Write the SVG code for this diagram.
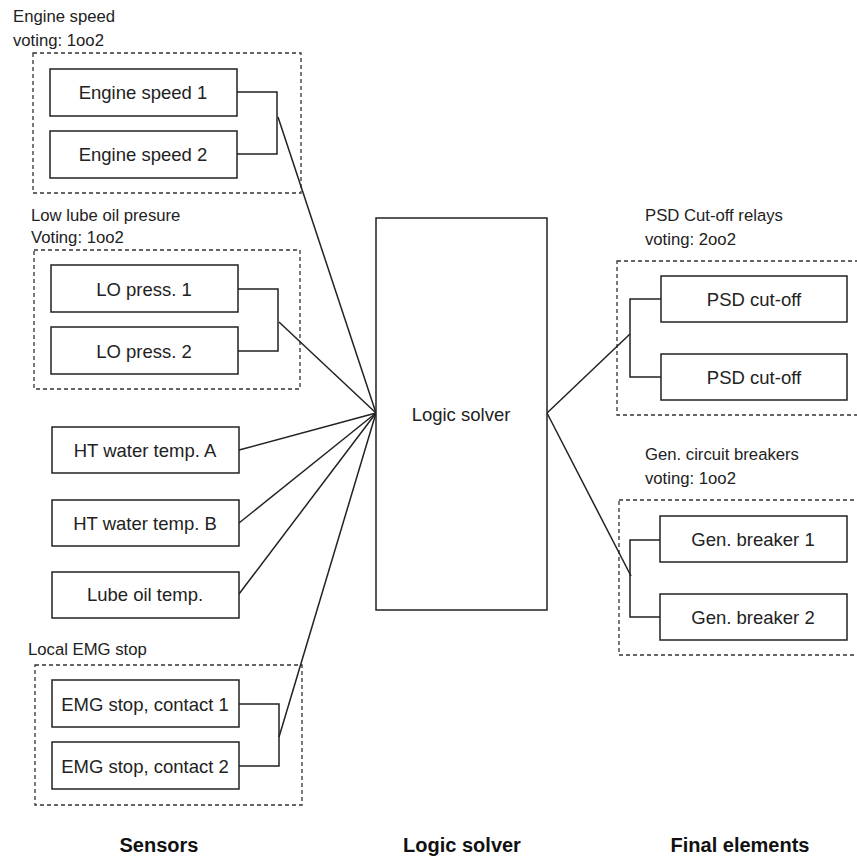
<svg xmlns="http://www.w3.org/2000/svg" width="857" height="857" viewBox="0 0 857 857">
<style>
.box{fill:#fff;stroke:#222;stroke-width:1.5}
.grp{fill:none;stroke:#333;stroke-width:1.3;stroke-dasharray:4 3}
.t{font-family:"Liberation Sans",Arial,sans-serif;font-size:18.5px;fill:#222;text-anchor:middle;dominant-baseline:central}
.lbl{font-family:"Liberation Sans",Arial,sans-serif;font-size:16.7px;fill:#222}
.h{font-family:"Liberation Sans",Arial,sans-serif;font-size:20px;font-weight:bold;fill:#111;text-anchor:middle}
.c{fill:none;stroke:#222;stroke-width:1.5}
</style>
<rect width="857" height="857" fill="#fff"/>
<g id="group-engine-speed">
<rect class="grp" x="33" y="53" width="268" height="140"/>
<text class="lbl" x="13" y="22">Engine speed</text>
<text class="lbl" x="13" y="46">voting: 1oo2</text>
</g>
<g id="group-lube-oil">
<rect class="grp" x="34" y="250" width="266" height="139"/>
<text class="lbl" x="31" y="221">Low lube oil presure</text>
<text class="lbl" x="31" y="243">Voting: 1oo2</text>
</g>
<g id="group-emg">
<rect class="grp" x="35" y="665" width="267" height="140"/>
<text class="lbl" x="28" y="655">Local EMG stop</text>
</g>
<g id="group-psd">
<rect class="grp" x="617" y="261" width="250" height="154"/>
<text class="lbl" x="645" y="221">PSD Cut-off relays</text>
<text class="lbl" x="645" y="245">voting: 2oo2</text>
</g>
<g id="group-gen">
<rect class="grp" x="619" y="500" width="250" height="155"/>
<text class="lbl" x="645" y="460">Gen. circuit breakers</text>
<text class="lbl" x="645" y="484">voting: 1oo2</text>
</g>
<g id="connectors">
<polyline class="c" points="237,92 277,92 277,154 237,154"/>
<line class="c" x1="278" y1="117" x2="376" y2="413"/>
<polyline class="c" points="238,289 278,289 278,351 238,351"/>
<line class="c" x1="279" y1="322" x2="376" y2="413"/>
<line class="c" x1="239" y1="450" x2="376" y2="413"/>
<line class="c" x1="239" y1="523" x2="376" y2="413"/>
<line class="c" x1="239" y1="594" x2="376" y2="413"/>
<polyline class="c" points="239,704 279,704 279,766 239,766"/>
<line class="c" x1="279" y1="737" x2="376" y2="413"/>
<polyline class="c" points="661,299 630,299 630,377 661,377"/>
<line class="c" x1="547" y1="413" x2="630" y2="334"/>
<polyline class="c" points="660,540 630,540 630,617 660,617"/>
<line class="c" x1="547" y1="413" x2="631" y2="576"/>
</g>
<g id="engine-speed-1"><rect class="box" x="50" y="69" width="187" height="47"/><text class="t" x="143" y="92">Engine speed 1</text></g>
<g id="engine-speed-2"><rect class="box" x="50" y="131" width="187" height="47"/><text class="t" x="143" y="154">Engine speed 2</text></g>
<g id="lo-press-1"><rect class="box" x="51" y="265" width="187" height="47"/><text class="t" x="144" y="289">LO press. 1</text></g>
<g id="lo-press-2"><rect class="box" x="51" y="327" width="187" height="47"/><text class="t" x="144" y="351">LO press. 2</text></g>
<g id="ht-water-a"><rect class="box" x="52" y="427" width="187" height="46"/><text class="t" x="145" y="450">HT water temp. A</text></g>
<g id="ht-water-b"><rect class="box" x="52" y="500" width="187" height="46"/><text class="t" x="145" y="523">HT water temp. B</text></g>
<g id="lube-oil-temp"><rect class="box" x="52" y="572" width="187" height="46"/><text class="t" x="145" y="594">Lube oil temp.</text></g>
<g id="emg-1"><rect class="box" x="52" y="680" width="187" height="47"/><text class="t" x="145" y="704">EMG stop, contact 1</text></g>
<g id="emg-2"><rect class="box" x="52" y="742" width="187" height="47"/><text class="t" x="145" y="766">EMG stop, contact 2</text></g>
<g id="logic-solver"><rect class="box" x="376" y="218" width="171" height="392"/><text class="t" x="461" y="414">Logic solver</text></g>
<g id="psd-1"><rect class="box" x="661" y="276" width="186" height="46"/><text class="t" x="754" y="299">PSD cut-off</text></g>
<g id="psd-2"><rect class="box" x="661" y="354" width="186" height="46"/><text class="t" x="754" y="377">PSD cut-off</text></g>
<g id="gen-1"><rect class="box" x="660" y="516" width="187" height="46"/><text class="t" x="753" y="539">Gen. breaker 1</text></g>
<g id="gen-2"><rect class="box" x="660" y="594" width="187" height="46"/><text class="t" x="753" y="617">Gen. breaker 2</text></g>
<g id="titles">
<text class="h" x="159" y="852">Sensors</text>
<text class="h" x="462" y="852">Logic solver</text>
<text class="h" x="740" y="852">Final elements</text>
</g>
</svg>
